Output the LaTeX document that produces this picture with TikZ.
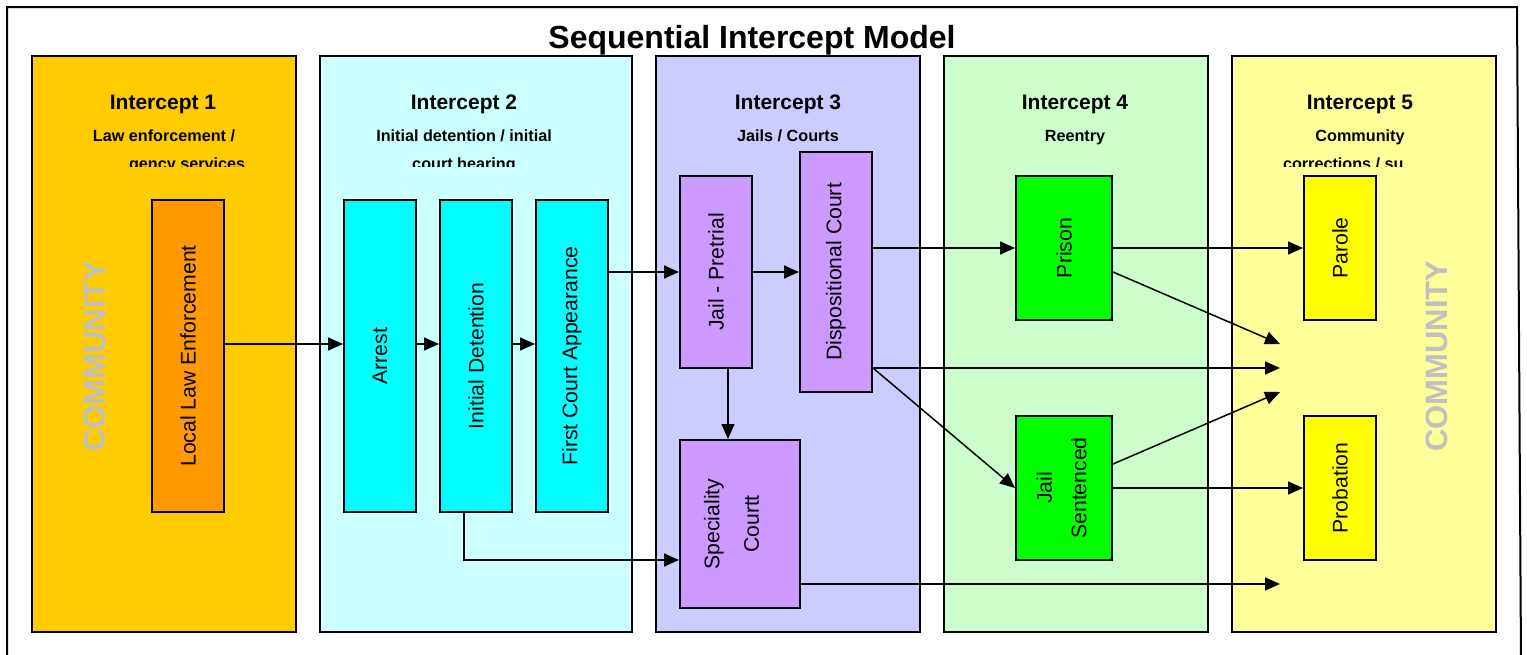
\documentclass[tikz,border=0pt]{standalone}
\usepackage{fontspec}
\setmainfont{Liberation Sans}
\usepackage{xcolor}
\usetikzlibrary{arrows.meta}

\definecolor{gold}{HTML}{FFCC00}
\definecolor{orng}{HTML}{FF9900}
\definecolor{paleCyan}{HTML}{CCFFFF}
\definecolor{aqua}{HTML}{00FFFF}
\definecolor{paleBlue}{HTML}{CCCCFF}
\definecolor{lilac}{HTML}{CC99FF}
\definecolor{paleGreen}{HTML}{CCFFCC}
\definecolor{lime}{HTML}{00FF00}
\definecolor{paleYellow}{HTML}{FFFF99}
\definecolor{lemon}{HTML}{FFFF00}
\definecolor{silver}{HTML}{C0C0C0}

\begin{document}
\begin{tikzpicture}[x=1pt,y=-1pt,node distance={96pt},line width=2pt]
  \tikzstyle{column}=[draw, rectangle, inner sep=0, minimum width=264pt, minimum height=576pt]
  \tikzstyle{stage}=[draw, rectangle, inner sep=0, minimum width=72pt, font=\fontsize{21.2}{25.4}\selectfont]
  \tikzstyle{head}=[font=\fontsize{21}{25}\selectfont\bfseries, anchor=base, inner sep=0]
  \tikzstyle{sub}=[font=\fontsize{16.2}{19}\selectfont\bfseries, anchor=base, inner sep=0]
  \tikzstyle{community}=[text=silver, font=\fontsize{31}{36}\selectfont\bfseries, rotate=90, inner sep=0]
  \tikzstyle{flow}=[-{Triangle[length=15pt,width=13pt]}, line width=1.5pt]
  \useasboundingbox (0,0) rectangle (1527,654);
  \fill[white] (0,0) rectangle (1527,654);
  \draw (7,660) -- (7,7) -- (1517,7) -- (1521,660);

  \node[font=\fontsize{32}{38}\selectfont\bfseries, anchor=base, inner sep=0] (title) at (752,48) {Sequential Intercept Model};

  \node[column, fill=gold] (int1) at (164,344) {};
  \node[column, fill=paleCyan, minimum width=312pt] (int2) at (476,344) {};
  \node[column, fill=paleBlue] (int3) at (788,344) {};
  \node[column, fill=paleGreen] (int4) at (1076,344) {};
  \node[column, fill=paleYellow] (int5) at (1364,344) {};

  \node[head] (h1) at (163,109) {Intercept 1};
  \node[head] (h2) at (464,109) {Intercept 2};
  \node[head] (h3) at (788,109) {Intercept 3};
  \node[head] (h4) at (1075,109) {Intercept 4};
  \node[head] (h5) at (1360,109) {Intercept 5};
  \node[sub] (s1) at (164,141) {Law enforcement /};
  \node[sub] (s2) at (464,141) {Initial detention / initial};
  \node[sub] (s3) at (788,141) {Jails / Courts};
  \node[sub] (s4) at (1075,141) {Reentry};
  \node[sub] (s5) at (1360,141) {Community};
  \begin{scope}
    \clip (0,0) rectangle (1527,166.5);
    \node[sub, anchor=base west] (t1) at (128,169) {gency services};
    \node[sub] (t2) at (464,169) {court hearing};
    \node[sub, anchor=base west] (t5) at (1282,169) {corrections / su};
  \end{scope}

  \node[community] (comL) at (94.5,356) {COMMUNITY};
  \node[community] (comR) at (1437,356) {COMMUNITY};

  \node[stage, fill=orng, minimum height=312pt] (1) at (188,356) {\rotatebox{90}{Local Law Enforcement}};
  \node[stage, fill=aqua, minimum height=312pt] (2) at (380,356) {\rotatebox{90}{Arrest}};
  \node[stage, fill=aqua, minimum height=312pt] (3) [right of=2] {\rotatebox{90}{Initial Detention}};
  \node[stage, fill=aqua, minimum height=312pt] (4) [right of=3] {\rotatebox{90}{First Court Appearance}};
  \node[stage, fill=lilac, minimum height=192pt] (5) at (716,272) {\rotatebox{90}{Jail - Pretrial}};
  \node[stage, fill=lilac, minimum height=240pt] (6) at (836,272) {\rotatebox{90}{Dispositional Court}};
  \node[stage, fill=lilac, minimum width=120pt, minimum height=168pt] (7) at (740,524)
    {\rotatebox{90}{\begin{tabular}{@{}c@{}}Speciality\\[14pt]Courtt\end{tabular}}\hspace*{12pt}};
  \node[stage, fill=lime, minimum width=96pt, minimum height=144pt] (8) at (1064,248) {\rotatebox{90}{Prison}};
  \node[stage, fill=lime, minimum width=96pt, minimum height=144pt, node distance=240pt] (9) [below of=8]
    {\rotatebox{90}{\begin{tabular}{@{}c@{}}Jail\\[9pt]Sentenced\end{tabular}}};
  \node[stage, fill=lemon, minimum height=144pt] (10) at (1340,248) {\rotatebox{90}{Parole}};
  \node[stage, fill=lemon, minimum height=144pt, node distance=240pt] (11) [below of=10] {\rotatebox{90}{Probation}};

  \coordinate (e1) at (1280,344);
  \coordinate (e2) at (1280,368);
  \coordinate (e3) at (1280,392);
  \coordinate (e4) at (1280,584);

  \draw[flow] ([yshift=12pt]1.east) -- ([yshift=12pt]2.west);
  \draw[flow] ([yshift=12pt]2.east) -- ([yshift=12pt]3.west);
  \draw[flow] ([yshift=12pt]3.east) -- ([yshift=12pt]4.west);
  \draw[flow] (4.east |- 5.west) -- (5.west);
  \draw[flow] (5.east) -- (6.west);
  \draw[flow] ([xshift=12pt]5.south) -- ([xshift=12pt]5.south |- 7.north);
  \draw[flow] ([xshift=-12pt]3.south) |- ([yshift=-36pt]7.west);
  \draw[flow] (6.east |- 8.west) -- (8.west);
  \draw[flow] (6.east |- e2) -- (e2);
  \draw[flow] (6.east |- e2) -- (9.west);
  \draw[flow] (8.east) -- (10.west);
  \draw[flow] ([yshift=-24pt]8.east) -- (e1);
  \draw[flow] ([yshift=24pt]9.east) -- (e3);
  \draw[flow] (9.east) -- (11.west);
  \draw[flow] (7.east |- e4) -- (e4);
\end{tikzpicture}
\end{document}
